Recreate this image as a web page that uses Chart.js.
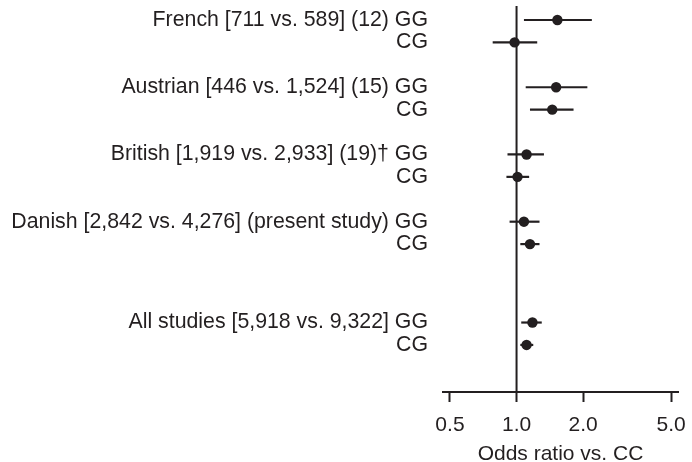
<!DOCTYPE html>
<html><head><meta charset="utf-8">
<script src="https://cdn.jsdelivr.net/npm/chart.js@4.4.1/dist/chart.umd.min.js"></script>
<style>html,body{margin:0;padding:0;background:#fff}</style>
</head><body>
<canvas id="c" width="692" height="462" style="display:block;width:692px;height:462px"></canvas>
<script>
const studies = ['French [711 vs. 589] (12)', 'Austrian [446 vs. 1,524] (15)', 'British [1,919 vs. 2,933] (19)\u2020', 'Danish [2,842 vs. 4,276] (present study)', 'All studies [5,918 vs. 9,322]'];
const genotypes = ['GG', 'CG'];
const oddsRatio = [1.53, 0.98, 1.51, 1.45, 1.11, 1.01, 1.08, 1.15, 1.18, 1.11];
const ciLow     = [1.08, 0.78, 1.10, 1.15, 0.91, 0.90, 0.93, 1.04, 1.05, 1.04];
const ciHigh    = [2.19, 1.24, 2.09, 1.81, 1.33, 1.14, 1.27, 1.27, 1.30, 1.19];
const rowPos    = [0, 1, 3, 4, 6, 7, 9, 10, 13.5, 14.5];
const xTicks    = [0.5, 1.0, 2.0, 5.0];
const xTitle = 'Odds ratio vs. CC';

const INK = '#231f20';
const FONT = 'Liberation Sans, Arial, Helvetica, sans-serif';

const rowLabels = [];
studies.forEach(s => { rowLabels.push(s + ' ' + genotypes[0]); rowLabels.push(genotypes[1]); });

const Y_MIN = -0.625, Y_MAX = 16.6;

const datasets = [];
// reference line at OR = 1
datasets.push({
  type: 'scatter', data: [{x: 1, y: Y_MIN}, {x: 1, y: Y_MAX}], showLine: true,
  borderColor: INK, borderWidth: 2, pointRadius: 0, clip: false
});
// confidence intervals
rowPos.forEach((p, i) => {
  datasets.push({
    type: 'scatter', data: [{x: ciLow[i], y: p}, {x: ciHigh[i], y: p}], showLine: true,
    borderColor: INK, borderWidth: 2.2, pointRadius: 0
  });
});
// point estimates
datasets.push({
  type: 'scatter', data: rowPos.map((p, i) => ({x: oddsRatio[i], y: p})),
  pointRadius: 5.2, pointBackgroundColor: INK, pointBorderColor: INK, pointBorderWidth: 0, clip: false
});

new Chart(document.getElementById('c'), {
  type: 'scatter',
  data: { datasets },
  options: {
    responsive: false, animation: false, devicePixelRatio: 1,
    layout: { padding: { top: 6, right: 14, bottom: 0, left: 0 } },
    plugins: { legend: { display: false }, tooltip: { enabled: false } },
    scales: {
      x: {
        type: 'logarithmic', min: 0.465, max: 5.37,
        afterBuildTicks: s => { s.ticks = xTicks.map(v => ({ value: v })); },
        afterFit: s => { s.height = 70; s.paddingLeft = 0; s.paddingRight = 0; },
        ticks: { autoSkip: false, maxRotation: 0, padding: 11, color: INK, font: { family: FONT, size: 21 }, callback: v => Number(v).toFixed(1) },
        grid: { display: true, drawOnChartArea: false, drawTicks: true, tickLength: 10, tickWidth: 2, tickColor: INK },
        border: { display: true, color: INK, width: 2 },
        title: { display: true, text: xTitle, color: INK, font: { family: FONT, size: 21, lineHeight: 1 }, padding: { top: 0, bottom: -2.5 } }
      },
      y: {
        type: 'linear', reverse: true, min: Y_MIN, max: Y_MAX,
        afterBuildTicks: s => { s.ticks = rowPos.map(v => ({ value: v })); },
        afterFit: s => { s.width = 443; s.paddingTop = 0; s.paddingBottom = 0; },
        ticks: { autoSkip: false, padding: 15, color: INK, font: { family: FONT, size: 21.3, lineHeight: 1 },
          callback: (v, i) => rowLabels[i] },
        grid: { display: false, drawTicks: false },
        border: { display: false }
      }
    }
  }
});
</script>
</body></html>
